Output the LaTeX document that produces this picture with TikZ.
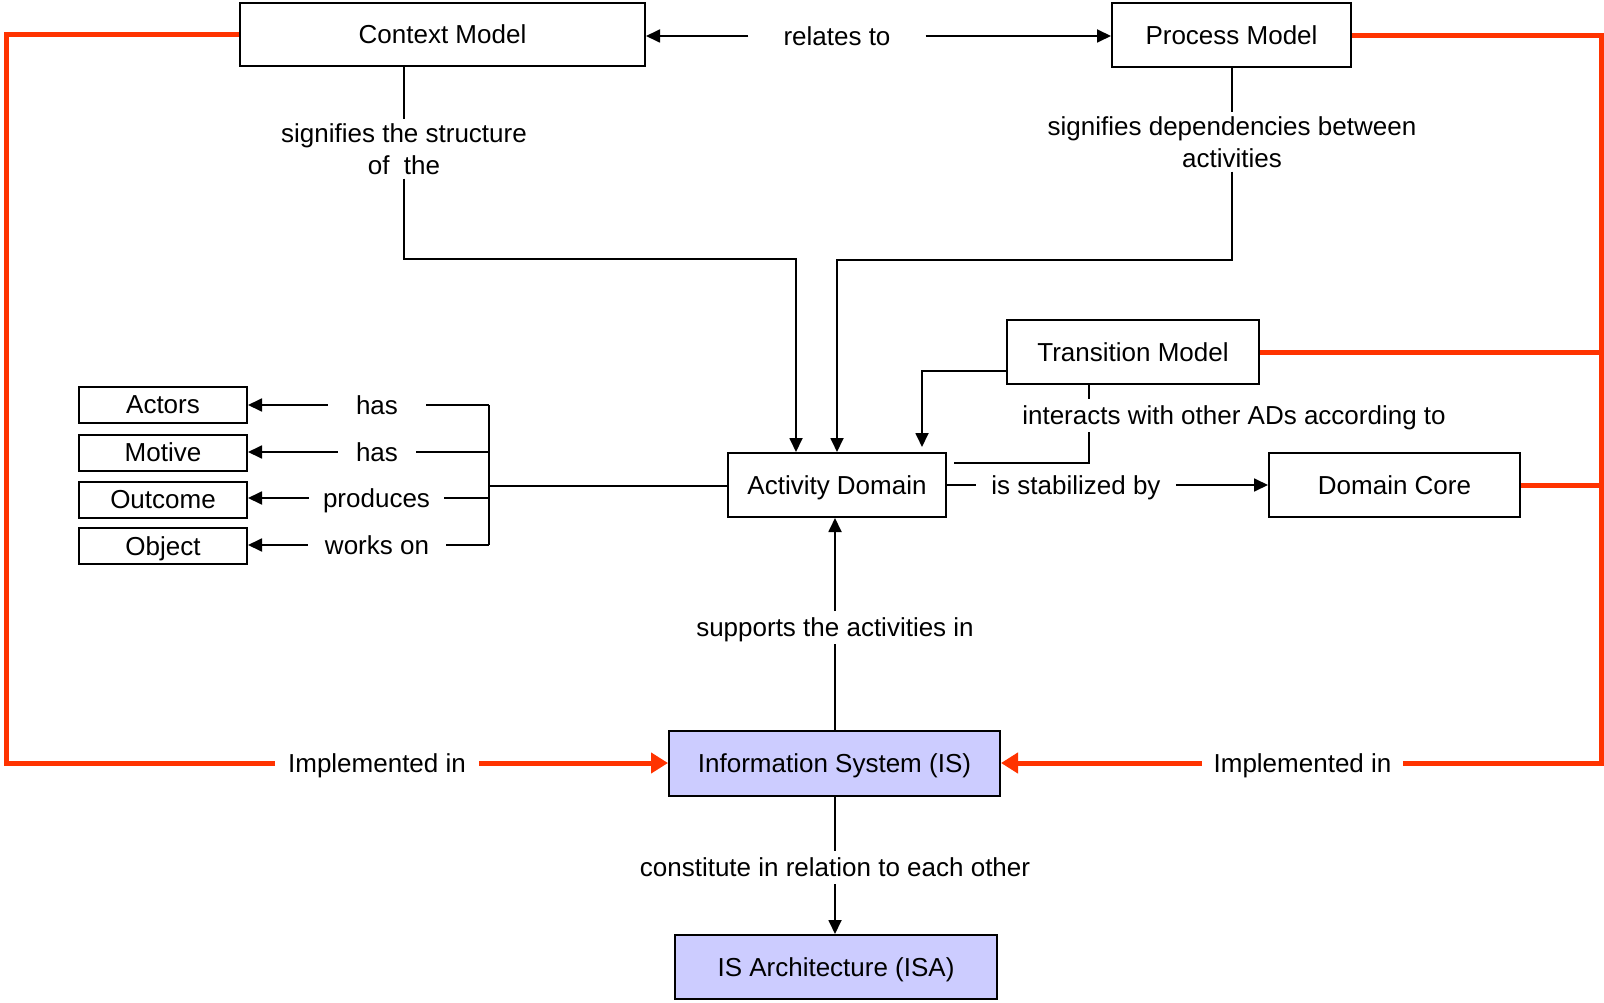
\documentclass[tikz,border=0pt]{standalone}
\usepackage{fontspec}
\setmainfont{Liberation Sans}
\usetikzlibrary{arrows.meta,calc}
\definecolor{redline}{RGB}{255,51,0}
\definecolor{isblue}{RGB}{204,204,255}
\begin{document}
\begin{tikzpicture}[x=1pt,y=-1pt,
  box/.style={draw,line width=2pt,inner sep=0pt,text height=18.6pt,text depth=0pt,font=\fontsize{26}{32}\selectfont},
  lbl/.style={inner ysep=7pt,text height=18.6pt,text depth=0pt,font=\fontsize{26}{32}\selectfont},
  lbltwo/.style={inner ysep=4pt,align=center,font=\fontsize{26}{32}\selectfont},
  conn/.style={line width=1.8pt},
  arr/.style={conn,-{Triangle[length=14pt,width=13pt]}},
  redconn/.style={draw=redline,line width=5pt},
  redarr/.style={redconn,-{Triangle[length=17pt,width=20pt]}}]
\useasboundingbox (0,0) rectangle (1604,1003);
% boxes
\node[box,minimum width=405pt,minimum height=63pt] (cm) at (442.5,34.5) {Context Model};
\node[box,minimum width=239pt,minimum height=64pt] (pm) at (1231.5,35.5) {Process Model};
\node[box,minimum width=252pt,minimum height=64pt] (tm) at (1133,352) {Transition Model};
\node[box,minimum width=218pt,minimum height=64pt] (ad) at (837,485) {Activity Domain};
\node[box,minimum width=251pt,minimum height=64pt] (dc) at (1394.5,485) {Domain Core};
\node[box,fill=isblue,minimum width=331pt,minimum height=65pt] (is) at (834.5,763.5) {Information System (IS)};
\node[box,fill=isblue,minimum width=322pt,minimum height=64pt] (isa) at (836,967) {IS Architecture (ISA)};
\node[box,minimum width=168pt,minimum height=36pt] (actors) at (163,404.5) {Actors};
\node[box,minimum width=168pt,minimum height=36pt] (motive) at (163,452.5) {Motive};
\node[box,minimum width=168pt,minimum height=36pt] (outcome) at (163,499.5) {Outcome};
\node[box,minimum width=168pt,minimum height=36pt] (object) at (163,546) {Object};
% relates to
\node[lbl,inner xsep=35pt] (rel) at (837,36) {relates to};
\draw[arr] (rel.west) -- (rel.west -| cm.east);
\draw[arr] (rel.east) -- (rel.east -| pm.west);
% context model -> AD
\node[lbltwo] (sig1) at (404,149) {signifies the structure\\of~~the};
\coordinate (j1) at (796,259);
\draw[conn] (cm.south -| sig1) -- (sig1.north);
\draw[arr] (sig1.south) |- (j1) -- (j1 |- ad.north);
% process model -> AD
\node[lbltwo] (sig2) at (1232,142) {signifies dependencies between\\activities};
\coordinate (j2) at (837,260);
\draw[conn] (pm.south -| sig2) -- (sig2.north);
\draw[arr] (sig2.south) |- (j2) -- (j2 |- ad.north);
% transition model -> AD
\coordinate (j3) at (922,447);
\draw[arr] ([yshift=-19pt]tm.west) -| (j3);
% interacts
\node[lbl] (inter) at (1234,415.5) {interacts with other ADs according to};
\coordinate (j4) at (1089,463);
\coordinate (j5) at (954,463);
\draw[conn] (tm.south -| j4) -- (inter.north -| j4);
\draw[conn] (inter.south -| j4) -- (j4) -- (j5);
% stabilized
\node[lbl,inner xsep=15pt] (stab) at (1076,485) {is stabilized by};
\draw[conn] (ad.east) -- (stab.west);
\draw[arr] (stab.east) -- (stab.east -| dc.west);
% bus to attributes
\coordinate (bus) at (489,486);
\node[lbl,inner xsep=28pt] (has1) at (377,405) {has};
\node[lbl,inner xsep=18pt] (has2) at (377,452) {has};
\node[lbl,inner xsep=14pt] (prod) at (376.5,498) {produces};
\node[lbl,inner xsep=17pt] (works) at (377,545) {works on};
\draw[arr] (has1.west) -- (has1.west -| actors.east);
\draw[arr] (has2.west) -- (has2.west -| motive.east);
\draw[arr] (prod.west) -- (prod.west -| outcome.east);
\draw[arr] (works.west) -- (works.west -| object.east);
\draw[conn] (has1.east) -- (has1.east -| bus);
\draw[conn] (has2.east) -- (has2.east -| bus);
\draw[conn] (prod.east) -- (prod.east -| bus);
\draw[conn] (works.east) -- (works.east -| bus);
\draw[conn] (has1 -| bus) -- (works -| bus);
\draw[conn] (bus) -- (bus -| ad.west);
% supports
\node[lbl] (sup) at (835,627.5) {supports the activities in};
\draw[conn] (is.north -| sup) -- (sup.south);
\draw[arr] (sup.north) -- (sup.north |- ad.south);
% constitute
\node[lbl] (cons) at (835,867.5) {constitute in relation to each other};
\draw[conn] (is.south -| cons) -- (cons.north);
\draw[arr] (cons.south) -- (cons.south |- isa.north);
% red implemented in
\node[lbl,inner xsep=13pt] (impl1) at (377,763) {Implemented in};
\node[lbl,inner xsep=11.5pt] (impl2) at (1302.5,763) {Implemented in};
\coordinate (rl) at (6,763);
\coordinate (rr) at (1601,763);
\draw[redconn] (cm.west) -| (rl) -- (impl1.west);
\draw[redarr] (impl1.east) -- (impl1.east -| is.west);
\draw[redconn] (pm.east) -| (rr) -- (impl2.east);
\draw[redconn] (tm.east) -- (tm.east -| rr);
\draw[redconn] (dc.east) -- (dc.east -| rr);
\draw[redarr] (impl2.west) -- (impl2.west -| is.east);
\end{tikzpicture}
\end{document}
